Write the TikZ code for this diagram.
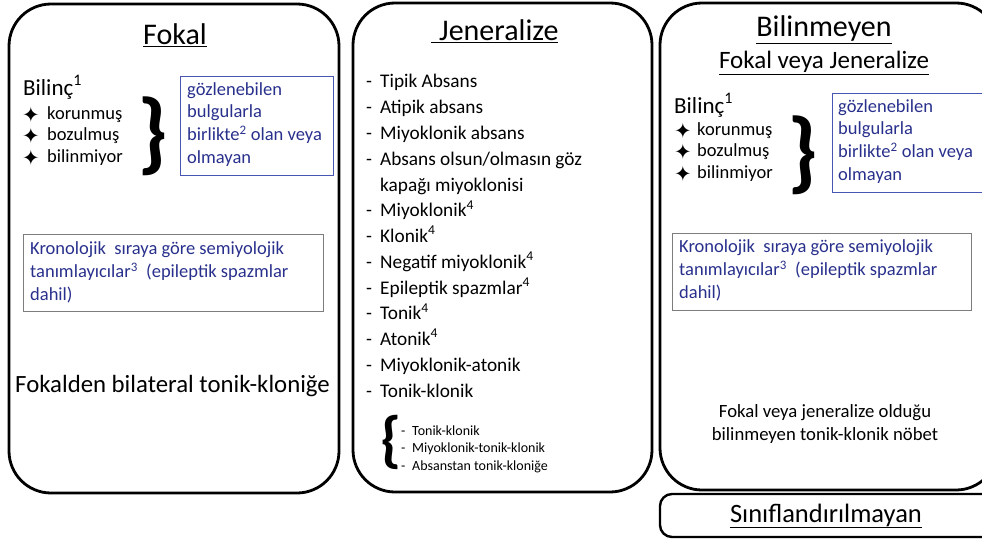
\documentclass[tikz,border=0pt]{standalone}
\usepackage{fontspec}
\setmainfont{Carlito}
\newfontfamily\starfont{DejaVu Sans}
\usepackage{tikz}
\definecolor{semiblue}{RGB}{40,48,140}
\definecolor{frameblue}{RGB}{70,86,178}
\definecolor{framegray}{RGB}{125,125,125}
\tikzset{
    panel/.style={draw=black, line width=2.8pt, rounded corners=42pt},
    tagbox/.style={draw=black, line width=2.4pt, rounded corners=12pt},
    bluebox/.style={draw=frameblue, line width=1pt},
    graybox/.style={draw=framegray, line width=1pt},
    heading/.style={inner sep=0pt, anchor=base, font=\fontsize{30}{36}\selectfont},
    subheading/.style={inner sep=0pt, anchor=base, font=\fontsize{25}{30}\selectfont},
    txt/.style={inner sep=0pt, anchor=base west, align=left},
    bluetxt/.style={txt, text=semiblue, font=\fontsize{18.5}{22.6}\selectfont},
    star/.style={inner sep=0pt, font=\starfont\fontsize{21}{21}\selectfont},
    bigbrace/.style={inner sep=0pt, font=\fontsize{90}{90}\selectfont\bfseries}
}
\begin{document}
\begin{tikzpicture}[x=1pt, y=-1pt]
\clip (0,0) rectangle (982,543);
\useasboundingbox (0,0) rectangle (982,543);
\draw[style={panel}] (9,4) rectangle (339,493);
\draw[style={panel}] (353,3) rectangle (652,492);
\draw[style={panel}] (660,3) rectangle (998,490);
\draw[style={tagbox}] (660,494) rectangle (995,537);
\node[style={heading}] (fokal) at (175,45) {\underline{Fokal}};
\node[style={txt}, font=\fontsize{23}{28}\selectfont] (bilincL) at (23,95) {Bilinç\textsuperscript{1}};
\foreach \state [count=\i] in {korunmuş, bozulmuş, bilinmiyor} {
  \node[style={star}] (starL\i) at (31, {114.5+21.5*(\i-1)}) {✦};
  \node[style={txt}, font=\fontsize{18.5}{22}\selectfont] (stateL\i) at (47, {119+21.5*(\i-1)}) {\state};
}
\node[style={bigbrace}] (braceL) at (153,136) {\}};
\draw[style={bluebox}] (180,76) rectangle (333,175);
\node[style={bluetxt}] (obsL) at (187,163) {gözlenebilen\\bulgularla\\birlikte\textsuperscript{2} olan veya\\olmayan};
\draw[style={graybox}] (23,234) rectangle (323,311);
\node[style={bluetxt}] (semioL) at (30,300) {Kronolojik\ \ sıraya göre semiyolojik\\tanımlayıcılar\textsuperscript{3}\ \ (epileptik spazmlar\\dahil)};
\node[style={txt}, font=\fontsize{24.8}{30}\selectfont] (fbtc) at (15,392) {Fokalden bilateral tonik-kloniğe};
\node[style={heading}, anchor=base west] (jen) at (431,41) {\underline{\hspace{8pt}Jeneralize}};
\foreach \i in {0,1,2,3,5,6,7,8,9,10,11,12}
  \node[style={txt}, font=\fontsize{19.3}{24}\selectfont] (dash\i) at (366, {88+25.75*\i}) {-};
\foreach \kind [count=\i from 0] in {Tipik Absans, Atipik absans, Miyoklonik absans, Absans olsun/olmasın göz, kapağı miyoklonisi, Miyoklonik\textsuperscript{4}, Klonik\textsuperscript{4}, Negatif miyoklonik\textsuperscript{4}, Epileptik spazmlar\textsuperscript{4}, Tonik\textsuperscript{4}, Atonik\textsuperscript{4}, Miyoklonik-atonik, Tonik-klonik}
  \node[style={txt}, font=\fontsize{19.3}{24}\selectfont] (kind\i) at (380, {88+25.75*\i}) {\kind};
\node[style={bigbrace}, font=\fontsize{62}{62}\selectfont\bfseries] (braceM) at (391,442) {\{};
\foreach \sub [count=\i from 0] in {Tonik-klonik, Miyoklonik-tonik-klonik, Absanstan tonik-kloniğe} {
  \node[style={txt}, font=\fontsize{14}{17}\selectfont] (subdash\i) at (401, {435+17.5*\i}) {-};
  \node[style={txt}, font=\fontsize{14}{17}\selectfont] (sub\i) at (412, {435+17.5*\i}) {\sub};
}
\node[style={heading}] (unk) at (824,37) {\underline{Bilinmeyen}};
\node[style={subheading}] (fvj) at (824,69) {\underline{Fokal veya Jeneralize}};
\node[style={txt}, font=\fontsize{23}{28}\selectfont] (bilincR) at (674,113) {Bilinç\textsuperscript{1}};
\foreach \state [count=\i] in {korunmuş, bozulmuş, bilinmiyor} {
  \node[style={star}] (starR\i) at (683, {130.5+21.5*(\i-1)}) {✦};
  \node[style={txt}, font=\fontsize{18.5}{22}\selectfont] (stateR\i) at (697, {135+21.5*(\i-1)}) {\state};
}
\node[style={bigbrace}] (braceR) at (803,155) {\}};
\draw[style={bluebox}] (832,93) rectangle (990,192);
\node[style={bluetxt}] (obsR) at (838,180) {gözlenebilen\\bulgularla\\birlikte\textsuperscript{2} olan veya\\olmayan};
\draw[style={graybox}] (672,233) rectangle (971,310);
\node[style={bluetxt}] (semioR) at (679,298) {Kronolojik\ \ sıraya göre semiyolojik\\tanımlayıcılar\textsuperscript{3}\ \ (epileptik spazmlar\\dahil)};
\node[style={txt}, anchor=base, align=center, font=\fontsize{18.7}{23}\selectfont] (unkgtc) at (825,440) {Fokal veya jeneralize olduğu\\bilinmeyen tonik-klonik nöbet};
\node[style={heading}, font=\fontsize{26.5}{32}\selectfont] (unclass) at (826,522) {\underline{Sınıflandırılmayan}};
\end{tikzpicture}
\end{document}
